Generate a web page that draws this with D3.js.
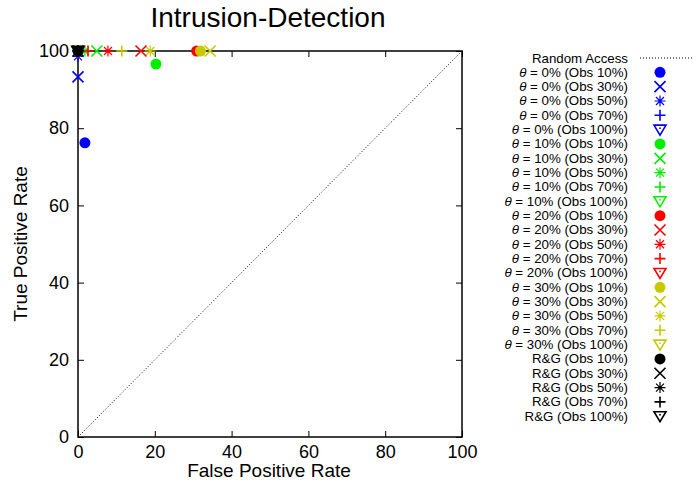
<!DOCTYPE html>
<html>
<head>
<meta charset="utf-8">
<script src="https://cdn.jsdelivr.net/npm/d3@7"></script>
<style>
  body { margin: 0; background: #fff; }
  svg { font-family: "Liberation Sans", Arial, sans-serif; }
</style>
</head>
<body>
<svg id="chart" width="696" height="484"></svg>
<script>
// groups (threshold) and observation levels
var groups = ["0%", "10%", "20%", "30%", "R&G"];
var obsLevels = ["10%", "30%", "50%", "70%", "100%"];
var colors = ["#0000ff", "#00ee00", "#ff0000", "#c8c800", "#000000"];

// false positive rate, one row per group, one value per obs level
var fpr = [
  [1.8, 0, 0, 0, 0],
  [20.3, 4.9, 1.8, 0.6, 0],
  [30.9, 16.4, 7.8, 2.6, 0],
  [31.9, 34.4, 18.8, 11.4, 0],
  [0, 0, 0, 0, 0]
];
// true positive rate
var tpr = [
  [76.2, 93.3, 98.6, 100, 100],
  [96.6, 100, 100, 100, 100],
  [100, 100, 100, 100, 100],
  [100, 100, 100, 100, 100],
  [100, 100, 100, 100, 100]
];
var ticks = [0, 20, 40, 60, 80, 100];
var symbols = ["circle", "cross", "star", "plus", "tri"];

var svg = d3.select("#chart");
var pLeft = 78, pRight = 462, pTop = 51, pBottom = 437;

var x = d3.scaleLinear().domain([0, 100]).range([pLeft, pRight]);
var y = d3.scaleLinear().domain([0, 100]).range([pBottom, pTop]);

svg.append("text")
    .attr("x", 268).attr("y", 27)
    .attr("text-anchor", "middle")
    .style("font-size", "28px")
    .text("Intrusion-Detection");

// axes with inward ticks on all four sides
svg.append("g")
    .attr("transform", "translate(0," + pBottom + ")")
    .call(d3.axisBottom(x).tickValues(ticks).tickSizeInner(-6).tickSizeOuter(0).tickPadding(8))
    .call(function(g) { g.select(".domain").remove(); });
svg.append("g")
    .attr("transform", "translate(0," + pTop + ")")
    .call(d3.axisTop(x).tickValues(ticks).tickSizeInner(-6).tickSizeOuter(0).tickFormat(""))
    .call(function(g) { g.select(".domain").remove(); });
svg.append("g")
    .attr("transform", "translate(" + pLeft + ",0)")
    .call(d3.axisLeft(y).tickValues(ticks).tickSizeInner(-6).tickSizeOuter(0).tickPadding(9))
    .call(function(g) { g.select(".domain").remove(); });
svg.append("g")
    .attr("transform", "translate(" + pRight + ",0)")
    .call(d3.axisRight(y).tickValues(ticks).tickSizeInner(-6).tickSizeOuter(0).tickFormat(""))
    .call(function(g) { g.select(".domain").remove(); });

svg.selectAll(".tick line").attr("stroke", "#000").attr("stroke-width", 1);
svg.selectAll(".tick text").style("font-size", "18px").attr("fill", "#000")
    .attr("font-family", "Liberation Sans, Arial, sans-serif");

// random access diagonal
svg.append("line")
    .attr("x1", x(0)).attr("y1", y(0))
    .attr("x2", x(100)).attr("y2", y(100))
    .attr("stroke", "#000").attr("stroke-width", 1)
    .attr("stroke-dasharray", "1,2");

svg.append("rect")
    .attr("x", pLeft).attr("y", pTop)
    .attr("width", pRight - pLeft).attr("height", pBottom - pTop)
    .attr("fill", "none").attr("stroke", "#000").attr("stroke-width", 1.5);

svg.append("text")
    .attr("x", 269).attr("y", 477)
    .attr("text-anchor", "middle")
    .style("font-size", "19px")
    .text("False Positive Rate");
svg.append("text")
    .attr("transform", "translate(27,244) rotate(-90)")
    .attr("text-anchor", "middle")
    .style("font-size", "19px")
    .text("True Positive Rate");

function drawSymbol(g, type, color) {
  var s = 5.5;
  if (type == "circle") {
    g.append("circle").attr("r", 5.5).attr("fill", color);
  } else if (type == "cross") {
    g.append("path").attr("d", "M" + -s + "," + -s + "L" + s + "," + s + "M" + -s + "," + s + "L" + s + "," + -s)
        .attr("stroke", color).attr("stroke-width", 1.6);
  } else if (type == "star") {
    g.append("path").attr("d", "M" + -s + ",0L" + s + ",0M0," + -s + "L0," + s +
        "M-4,-4L4,4M-4,4L4,-4")
        .attr("stroke", color).attr("stroke-width", 1.2);
  } else if (type == "plus") {
    g.append("path").attr("d", "M" + -s + ",0L" + s + ",0M0," + -s + "L0," + s)
        .attr("stroke", color).attr("stroke-width", 1.6);
  } else {
    g.append("path").attr("d", "M-6,-4.5L6,-4.5L0,5.5Z")
        .attr("fill", "none").attr("stroke", color).attr("stroke-width", 1.6);
    g.append("circle").attr("cy", -1.5).attr("r", 0.9).attr("fill", color);
  }
}

// data points
var pts = svg.append("g").attr("class", "points");
groups.forEach(function(gName, gi) {
  obsLevels.forEach(function(o, oi) {
    var g = pts.append("g")
        .attr("transform", "translate(" + x(fpr[gi][oi]) + "," + y(tpr[gi][oi]) + ")");
    drawSymbol(g, symbols[oi], colors[gi]);
  });
});

// legend
var legend = svg.append("g").attr("class", "legend");
var textX = 628, symX = 660, rowY0 = 58, rowH = 14.33;
legend.append("text")
    .attr("x", textX).attr("y", rowY0 + 4.5)
    .attr("text-anchor", "end")
    .style("font-size", "13.3px")
    .text("Random Access");
legend.append("line")
    .attr("x1", 640).attr("x2", 692)
    .attr("y1", rowY0).attr("y2", rowY0)
    .attr("stroke", "#000").attr("stroke-dasharray", "1,2");

var row = 1;
groups.forEach(function(gName, gi) {
  obsLevels.forEach(function(o, oi) {
    var yy = rowY0 + row * rowH;
    var t = legend.append("text")
        .attr("x", textX).attr("y", yy + 4.5)
        .attr("text-anchor", "end")
        .style("font-size", "13.3px");
    if (gName == "R&G") {
      t.text("R&G (Obs " + o + ")");
    } else {
      t.append("tspan").style("font-style", "italic").text("θ");
      t.append("tspan").text(" = " + gName + " (Obs " + o + ")");
    }
    var g = legend.append("g").attr("transform", "translate(" + symX + "," + yy + ")");
    drawSymbol(g, symbols[oi], colors[gi]);
    row++;
  });
});
</script>
</body>
</html>
